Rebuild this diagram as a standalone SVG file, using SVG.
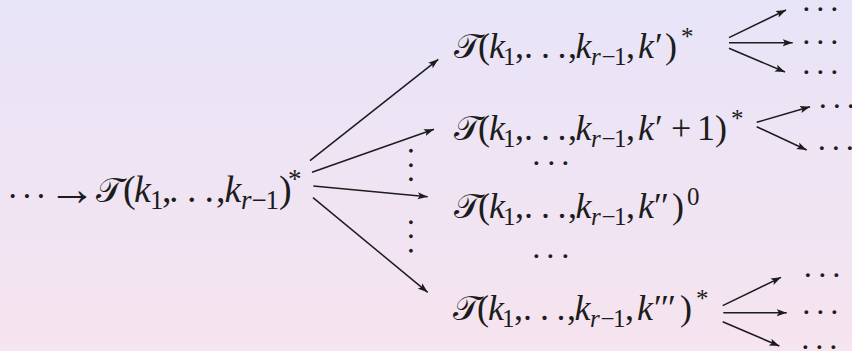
<svg xmlns="http://www.w3.org/2000/svg" width="852" height="351" viewBox="0 0 852 351">
<defs>
<linearGradient id="bg" x1="0" y1="0" x2="0" y2="1">
<stop offset="0" stop-color="#e8e4f8"/>
<stop offset="1" stop-color="#f6e4ef"/>
</linearGradient>
<marker id="ah" markerUnits="userSpaceOnUse" markerWidth="11" markerHeight="8" refX="10" refY="4" orient="auto" viewBox="0 0 11 8">
<path d="M0,0.4 L10,4 L0,7.6 L2.2,4 Z" fill="#1c1c1c"/>
</marker>
<style>
.m{font-family:"Liberation Serif","DejaVu Serif",serif;font-size:36px;fill:#1c1c1c}
.L{font-size:38px}
.t{font-size:35px}
.i{font-style:italic}
.s{font-size:25px}
.sL{font-size:27px}
.ar{font-size:48px}
.d{font-family:"Liberation Serif","DejaVu Serif",serif;font-size:32px;fill:#1c1c1c}
.c{stroke:#1c1c1c;stroke-width:1.5;fill:none;marker-end:url(#ah)}
</style>
</defs>
<rect width="852" height="351" fill="url(#bg)"/>

<g id="node-root">
<text class="m L"><tspan x="7 21.3 35.3" y="206.5" style="font-size:34px">···</tspan><tspan x="48" y="205.3" class="ar">→</tspan><tspan x="96" y="202" class="t">𝒯</tspan><tspan x="123" y="202">(</tspan><tspan x="134" y="202" class="i">k</tspan><tspan x="150" y="209" class="sL">1</tspan><tspan x="162" y="202">,</tspan><tspan x="169 187 204.5" y="202">...</tspan><tspan x="216" y="202">,</tspan><tspan x="224.5" y="202" class="i">k</tspan><tspan x="241" y="209" class="sL i">r</tspan><tspan x="251.5" y="209" class="sL">−</tspan><tspan x="265.5" y="209" class="sL">1</tspan><tspan x="279" y="202">)</tspan><tspan x="288" y="188" class="sL">*</tspan></text>
</g>

<g id="node-a">
<text class="m"><tspan x="454" y="58" class="t">𝒯</tspan><tspan x="478" y="58">(</tspan><tspan x="489" y="58" class="i">k</tspan><tspan x="503" y="65" class="s">1</tspan><tspan x="515" y="58">,</tspan><tspan x="524 541 557.5" y="58">...</tspan><tspan x="568" y="58">,</tspan><tspan x="575.5" y="58" class="i">k</tspan><tspan x="591" y="65" class="s i">r</tspan><tspan x="601.5" y="65" class="s">−</tspan><tspan x="614" y="65" class="s">1</tspan><tspan x="626" y="58">,</tspan><tspan x="638" y="58" class="i">k</tspan><tspan x="655" y="58">′</tspan><tspan x="665" y="58">)</tspan><tspan x="681" y="45" class="s">*</tspan></text>
</g>

<g id="node-b">
<text class="m"><tspan x="454" y="140" class="t">𝒯</tspan><tspan x="478" y="140">(</tspan><tspan x="489" y="140" class="i">k</tspan><tspan x="503" y="147" class="s">1</tspan><tspan x="515" y="140">,</tspan><tspan x="524 541 557.5" y="140">...</tspan><tspan x="568" y="140">,</tspan><tspan x="575.5" y="140" class="i">k</tspan><tspan x="591" y="147" class="s i">r</tspan><tspan x="601.5" y="147" class="s">−</tspan><tspan x="614" y="147" class="s">1</tspan><tspan x="626" y="140">,</tspan><tspan x="638" y="140" class="i">k</tspan><tspan x="655" y="140">′</tspan><tspan x="671" y="140">+</tspan><tspan x="697" y="140">1</tspan><tspan x="715" y="140">)</tspan><tspan x="731" y="127" class="s">*</tspan></text>
</g>

<g id="node-c">
<text class="m"><tspan x="454" y="218" class="t">𝒯</tspan><tspan x="478" y="218">(</tspan><tspan x="489" y="218" class="i">k</tspan><tspan x="503" y="225" class="s">1</tspan><tspan x="515" y="218">,</tspan><tspan x="524 541 557.5" y="218">...</tspan><tspan x="568" y="218">,</tspan><tspan x="575.5" y="218" class="i">k</tspan><tspan x="591" y="225" class="s i">r</tspan><tspan x="601.5" y="225" class="s">−</tspan><tspan x="614" y="225" class="s">1</tspan><tspan x="626" y="218">,</tspan><tspan x="638" y="218" class="i">k</tspan><tspan x="654 661" y="218">′′</tspan><tspan x="672" y="218">)</tspan><tspan x="687" y="205" class="s">0</tspan></text>
</g>

<g id="node-d">
<text class="m"><tspan x="453" y="320" class="t">𝒯</tspan><tspan x="477" y="320">(</tspan><tspan x="488" y="320" class="i">k</tspan><tspan x="502" y="327" class="s">1</tspan><tspan x="514" y="320">,</tspan><tspan x="523 540 556.5" y="320">...</tspan><tspan x="567" y="320">,</tspan><tspan x="574.5" y="320" class="i">k</tspan><tspan x="590" y="327" class="s i">r</tspan><tspan x="600.5" y="327" class="s">−</tspan><tspan x="613" y="327" class="s">1</tspan><tspan x="625" y="320">,</tspan><tspan x="637" y="320" class="i">k</tspan><tspan x="654 661 668" y="320">′′′</tspan><tspan x="680" y="320">)</tspan><tspan x="696" y="307" class="s">*</tspan></text>
</g>

<g id="gap-dots">
<text class="d" x="531 546 560" y="174">···</text>
<text class="d" x="531 545 560" y="267">···</text>
<text class="d" transform="translate(409,0) rotate(90)" x="146.7 161.3 175.3" y="0">...</text>
<text class="d" transform="translate(409,0) rotate(90)" x="218.3 232.3 246.7" y="0">...</text>
</g>

<g id="leaves">
<text class="d" x="801 815 829" y="20">···</text>
<text class="d" x="801 815 829" y="52.5">···</text>
<text class="d" x="801 815 829" y="82.5">···</text>
<text class="d" x="817.5 831.5 845.5" y="117">···</text>
<text class="d" x="816.5 830.5 844.5" y="159">···</text>
<text class="d" x="802.5 817 831" y="286">···</text>
<text class="d" x="801 815 829" y="322.5">···</text>
<text class="d" x="800 814 828" y="358">···</text>
</g>

<g id="connectors">
<line class="c" x1="310" y1="160.7" x2="438.3" y2="59.3"/>
<line class="c" x1="312" y1="172.3" x2="434" y2="129.3"/>
<line class="c" x1="313.3" y1="186" x2="427.7" y2="196.7"/>
<line class="c" x1="313" y1="197.7" x2="427.7" y2="292.3"/>
<line class="c" x1="729" y1="37.7" x2="786" y2="10"/>
<line class="c" x1="729" y1="42.7" x2="792.7" y2="42.7"/>
<line class="c" x1="729" y1="48.3" x2="785" y2="72"/>
<line class="c" x1="756.7" y1="122.3" x2="810" y2="106.7"/>
<line class="c" x1="756.7" y1="126.7" x2="806.7" y2="150"/>
<line class="c" x1="722.7" y1="305.7" x2="781" y2="277.3"/>
<line class="c" x1="723.3" y1="312.7" x2="786.7" y2="312.7"/>
<line class="c" x1="722.7" y1="321.7" x2="779.3" y2="346"/>
</g>
</svg>
